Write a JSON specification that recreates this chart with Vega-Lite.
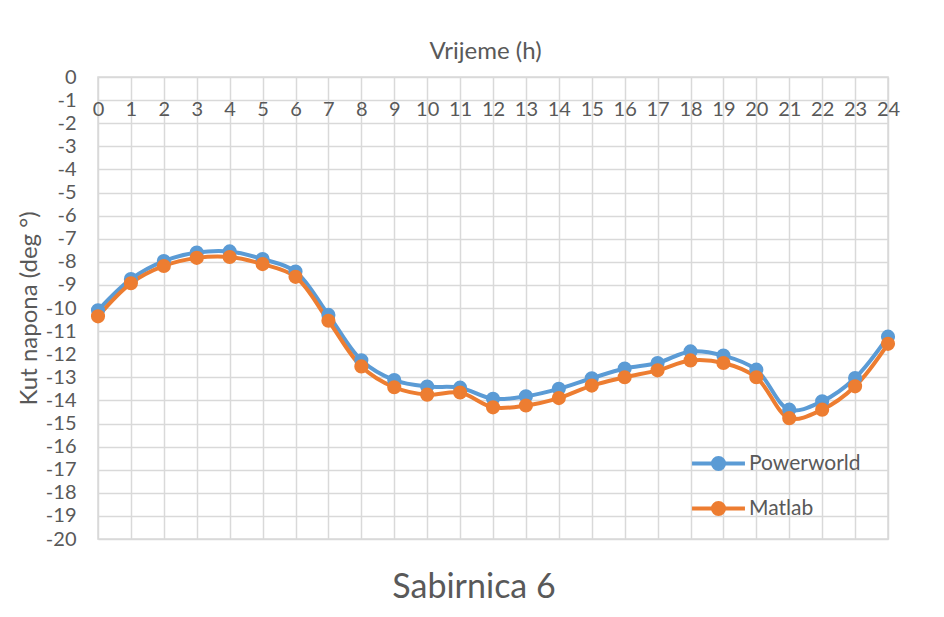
{
  "$schema": "https://vega.github.io/schema/vega-lite/v6.json",
  "width": 790,
  "height": 462,
  "autosize": {"type": "none"},
  "padding": {"left": 98, "top": 77, "right": 56, "bottom": 78},
  "background": "white",
  "config": {
    "font": "Lato",
    "view": {"stroke": "#d9d9d9", "strokeWidth": 1.5},
    "axis": {"labelColor": "#595959", "titleColor": "#595959", "labelFont": "Lato", "titleFont": "Lato", "titleFontWeight": "normal", "gridColor": "#d9d9d9", "gridWidth": 1.5, "gridOpacity": 1, "domain": false, "ticks": false}
  },
  "title": {"text": "Sabirnica 6", "orient": "bottom", "anchor": "middle", "dx": -19, "offset": 39, "baseline": "middle", "fontSize": 34, "fontWeight": "normal", "color": "#595959", "font": "Lato"},
  "data": {"values": [
    {"h": 0, "s": "Powerworld", "v": -10.1},
    {"h": 1, "s": "Powerworld", "v": -8.75},
    {"h": 2, "s": "Powerworld", "v": -7.97},
    {"h": 3, "s": "Powerworld", "v": -7.6},
    {"h": 4, "s": "Powerworld", "v": -7.55},
    {"h": 5, "s": "Powerworld", "v": -7.88},
    {"h": 6, "s": "Powerworld", "v": -8.42},
    {"h": 7, "s": "Powerworld", "v": -10.3},
    {"h": 8, "s": "Powerworld", "v": -12.26},
    {"h": 9, "s": "Powerworld", "v": -13.12},
    {"h": 10, "s": "Powerworld", "v": -13.4},
    {"h": 11, "s": "Powerworld", "v": -13.45},
    {"h": 12, "s": "Powerworld", "v": -13.93},
    {"h": 13, "s": "Powerworld", "v": -13.82},
    {"h": 14, "s": "Powerworld", "v": -13.5},
    {"h": 15, "s": "Powerworld", "v": -13.04},
    {"h": 16, "s": "Powerworld", "v": -12.62},
    {"h": 17, "s": "Powerworld", "v": -12.38},
    {"h": 18, "s": "Powerworld", "v": -11.88},
    {"h": 19, "s": "Powerworld", "v": -12.06},
    {"h": 20, "s": "Powerworld", "v": -12.67},
    {"h": 21, "s": "Powerworld", "v": -14.4},
    {"h": 22, "s": "Powerworld", "v": -14.04},
    {"h": 23, "s": "Powerworld", "v": -13.03},
    {"h": 24, "s": "Powerworld", "v": -11.24},
    {"h": 0, "s": "Matlab", "v": -10.36},
    {"h": 1, "s": "Matlab", "v": -8.93},
    {"h": 2, "s": "Matlab", "v": -8.18},
    {"h": 3, "s": "Matlab", "v": -7.83},
    {"h": 4, "s": "Matlab", "v": -7.79},
    {"h": 5, "s": "Matlab", "v": -8.1},
    {"h": 6, "s": "Matlab", "v": -8.65},
    {"h": 7, "s": "Matlab", "v": -10.55},
    {"h": 8, "s": "Matlab", "v": -12.53},
    {"h": 9, "s": "Matlab", "v": -13.43},
    {"h": 10, "s": "Matlab", "v": -13.75},
    {"h": 11, "s": "Matlab", "v": -13.66},
    {"h": 12, "s": "Matlab", "v": -14.3},
    {"h": 13, "s": "Matlab", "v": -14.22},
    {"h": 14, "s": "Matlab", "v": -13.9},
    {"h": 15, "s": "Matlab", "v": -13.36},
    {"h": 16, "s": "Matlab", "v": -13.0},
    {"h": 17, "s": "Matlab", "v": -12.7},
    {"h": 18, "s": "Matlab", "v": -12.27},
    {"h": 19, "s": "Matlab", "v": -12.38},
    {"h": 20, "s": "Matlab", "v": -13.0},
    {"h": 21, "s": "Matlab", "v": -14.77},
    {"h": 22, "s": "Matlab", "v": -14.4},
    {"h": 23, "s": "Matlab", "v": -13.39},
    {"h": 24, "s": "Matlab", "v": -11.55}
  ]},
  "encoding": {
    "x": {"field": "h", "type": "quantitative", "scale": {"domain": [0, 24], "nice": false, "zero": false},
      "axis": {"orient": "top", "title": "Vrijeme (h)", "tickCount": 24, "labelFontSize": 20, "labelPadding": -32, "labelBaseline": "middle", "labelFlush": false, "titleFontSize": 24, "titleY": -26, "titleBaseline": "middle", "titleX": 387}},
    "y": {"field": "v", "type": "quantitative", "scale": {"domain": [-20, 0], "nice": false},
      "axis": {"title": "Kut napona (deg °)", "tickCount": 20, "labelExpr": "'' + datum.value", "labelFontSize": 20, "labelPadding": 22, "labelFlush": false, "titleFontSize": 24, "titleX": -69, "titleBaseline": "middle"}},
    "color": {"field": "s", "type": "nominal", "scale": {"domain": ["Powerworld", "Matlab"], "range": ["#5b9bd5", "#ed7d31"]},
      "legend": {"title": null, "orient": "none", "legendX": 605, "legendY": 371, "labelFontSize": 21, "labelColor": "#595959", "labelFont": "Lato", "labelOffset": 15, "rowPadding": 15,
        "symbolType": "M-2,0H2M-0.42,0A0.42,0.42,0,1,1,0.42,0A0.42,0.42,0,1,1,-0.42,0Z", "symbolSize": 700, "symbolStrokeWidth": 4,
        "encode": {"symbols": {"update": {"fill": {"scale": "color", "field": "value"}, "stroke": {"scale": "color", "field": "value"}, "fillOpacity": {"value": 1}}}}}}
  },
  "layer": [
    {"mark": {"type": "line", "strokeWidth": 4, "interpolate": "catmull-rom"}},
    {"mark": {"type": "point", "filled": true, "size": 200, "opacity": 1}}
  ]
}
